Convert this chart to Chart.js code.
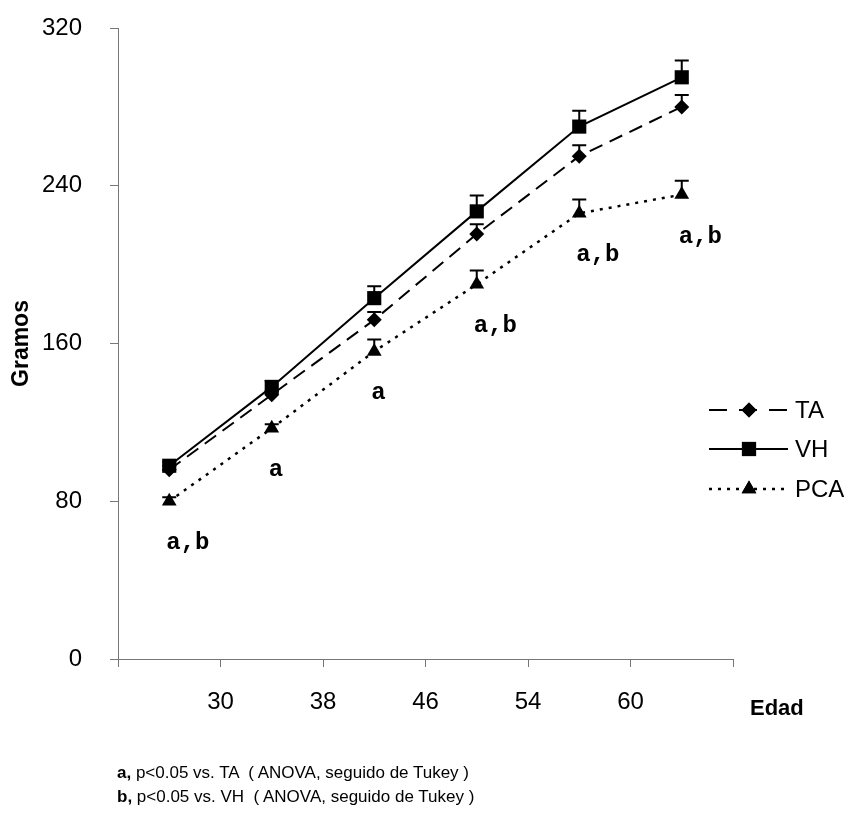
<!DOCTYPE html>
<html>
<head>
<meta charset="utf-8">
<script src="https://cdn.jsdelivr.net/npm/chart.js@4.4.0/dist/chart.umd.min.js"></script>
<style>
  body { margin: 0; background: #fff; }
  #wrap { position: relative; width: 844px; height: 822px; }
  .note { position: absolute; left: 117px; font: 17px "Liberation Sans", Arial, sans-serif; color: #000; white-space: pre; }
</style>
</head>
<body>
<div id="wrap">
  <canvas id="myChart" width="844" height="822"></canvas>
  <div class="note" style="top:763px"><b>a,</b> p&lt;0.05 vs. TA  ( ANOVA, seguido de Tukey )</div>
  <div class="note" style="top:787px"><b>b,</b> p&lt;0.05 vs. VH  ( ANOVA, seguido de Tukey )</div>
</div>
<script>
// six age groups, tick labels sit between them like the excel original
const xTickLabels = ['', '30', '38', '46', '54', '60', ''];
const yTicks = [0, 80, 160, 240, 320];

const taValues  = [96, 134, 172, 215.5, 255, 280];
const vhValues  = [98, 138, 183, 227, 270, 295];
const pcaValues = [80, 117, 156, 190, 226, 235.5];

// upper error bars (SE)
const taErr  = [2, 2, 4, 5, 5.5, 6];
const vhErr  = [2, 3, 6, 8, 8, 8.5];
const pcaErr = [2, 2, 6, 7, 7, 7];

// significance letters under the PCA points
const sigLabels = ['a,b', 'a', 'a', 'a,b', 'a,b', 'a,b'];

const toPoints = vals => vals.map((v, i) => ({ x: i + 0.5, y: v }));

const datasets = [
  { label: 'TA', data: toPoints(taValues), errors: taErr, borderDash: [14, 8],
    pointStyle: 'rectRot', pointRadius: 7.5, borderWidth: 2 },
  { label: 'VH', data: toPoints(vhValues), errors: vhErr, borderDash: [],
    pointStyle: 'rect', pointRadius: 10, borderWidth: 2 },
  { label: 'PCA', data: toPoints(pcaValues), errors: pcaErr, borderDash: [3, 6],
    pointStyle: 'triangle', pointRadius: 8.5, borderWidth: 2.5 }
].map(d => Object.assign({
  borderColor: '#000', backgroundColor: '#000',
  pointBackgroundColor: '#000', pointBorderColor: '#000', pointBorderWidth: 0,
  fill: false, tension: 0
}, d));

const extras = {
  id: 'extras',
  beforeDatasetsDraw(chart) {
    const { ctx, scales: { x, y } } = chart;
    ctx.save();
    ctx.strokeStyle = '#000';
    ctx.lineWidth = 2;
    chart.data.datasets.forEach(ds => {
      ds.data.forEach((p, i) => {
        const px = x.getPixelForValue(p.x);
        const y0 = y.getPixelForValue(p.y);
        const y1 = y.getPixelForValue(p.y + ds.errors[i]);
        ctx.beginPath();
        ctx.moveTo(px, y0); ctx.lineTo(px, y1);
        ctx.moveTo(px - 7, y1); ctx.lineTo(px + 7, y1);
        ctx.stroke();
      });
    });
    ctx.restore();
  },
  afterDraw(chart) {
    const { ctx, scales: { x, y } } = chart;
    ctx.save();
    ctx.fillStyle = '#000';

    // significance letters
    ctx.font = 'bold 24px "Liberation Mono", "Courier New", monospace';
    ctx.textAlign = 'left';
    ctx.textBaseline = 'middle';
    sigLabels.forEach((s, i) => {
      ctx.fillText(s, x.getPixelForValue(i + 0.5) - 3, y.getPixelForValue(pcaValues[i]) + 42);
    });

    // x axis title
    ctx.font = 'bold 22px "Liberation Sans", Arial, sans-serif';
    ctx.fillText('Edad', 750, 709);

    // legend: line, marker, label
    const rows = [410, 449, 489];
    chart.data.datasets.forEach((ds, k) => {
      const ry = rows[k];
      ctx.strokeStyle = '#000';
      ctx.lineWidth = ds.borderWidth;
      ctx.setLineDash(k === 0 ? [18, 12] : ds.borderDash);
      ctx.beginPath();
      ctx.moveTo(709, ry); ctx.lineTo(788, ry);
      ctx.stroke();
      ctx.setLineDash([]);
      Chart.helpers.drawPoint(ctx, { pointStyle: ds.pointStyle, radius: ds.pointRadius, borderWidth: 0 }, 749, ry);
      ctx.fill();
      ctx.font = '24px "Liberation Sans", Arial, sans-serif';
      ctx.fillText(ds.label, 795, ry + 1);
    });
    ctx.restore();
  }
};

const axisGrey = '#777';
const tickFont = { family: '"Liberation Sans", Arial, sans-serif', size: 24 };

new Chart(document.getElementById('myChart'), {
  type: 'line',
  data: { datasets },
  plugins: [extras],
  options: {
    responsive: false,
    animation: false,
    layout: { padding: { left: 8, top: 28, right: 111, bottom: 0 } },
    plugins: { legend: { display: false }, tooltip: { enabled: false } },
    scales: {
      x: {
        type: 'linear', min: 0, max: 6,
        afterFit: s => { s.height = 163; },
        afterBuildTicks: s => { s.ticks = xTickLabels.map((_, i) => ({ value: i })); },
        border: { color: axisGrey, width: 1 },
        grid: { drawOnChartArea: false, drawTicks: true, tickLength: 8, color: axisGrey },
        ticks: {
          callback: v => xTickLabels[v],
          maxRotation: 0, autoSkip: false, padding: 21, color: '#000',
          font: tickFont
        }
      },
      y: {
        min: 0, max: 320,
        afterFit: s => { s.width = 110; s.paddingTop = 0; s.paddingBottom = 0; },
        afterBuildTicks: s => { s.ticks = yTicks.map(v => ({ value: v })); },
        border: { color: axisGrey, width: 1 },
        grid: { drawOnChartArea: false, drawTicks: true, tickLength: 8, color: axisGrey },
        ticks: { padding: 28, color: '#000', font: tickFont },
        title: {
          display: true, text: 'Gramos', color: '#000', padding: 0,
          font: { family: '"Liberation Sans", Arial, sans-serif', size: 23, weight: 'bold' }
        }
      }
    }
  }
});
</script>
</body>
</html>
